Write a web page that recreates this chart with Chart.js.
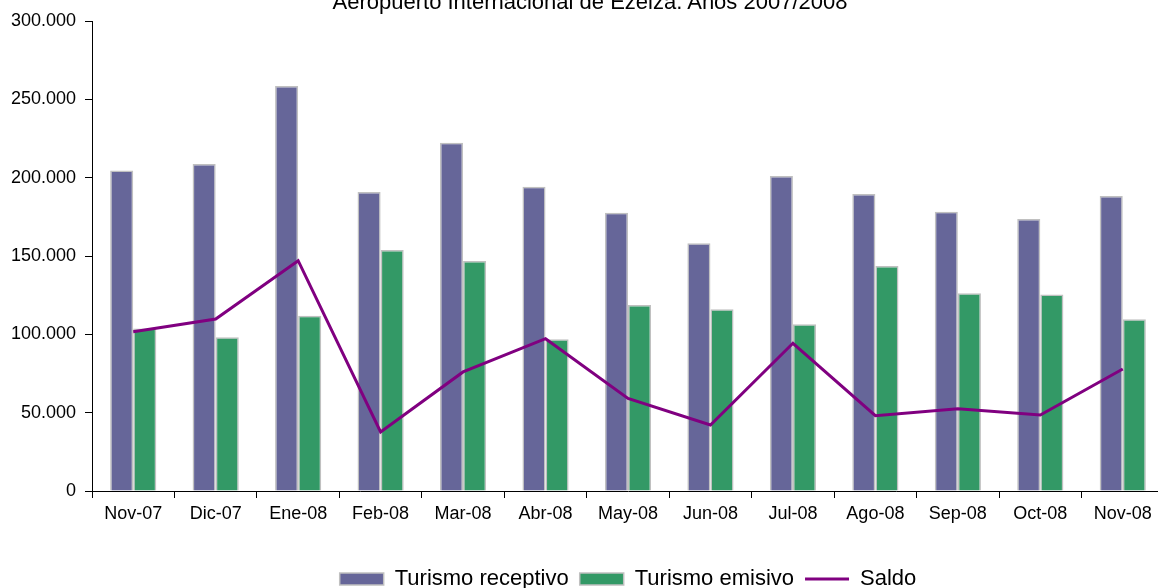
<!DOCTYPE html>
<html>
<head>
<meta charset="utf-8">
<script src="https://cdn.jsdelivr.net/npm/chart.js@4.4.0/dist/chart.umd.min.js"></script>
<style>
  html, body { margin: 0; padding: 0; background: #fff; overflow: hidden; }
  #wrap { position: relative; width: 1158px; height: 588px; overflow: hidden; }
  #title {
    position: absolute; left: 0; width: 1180px; top: -9px;
    text-align: center; font: 22px "Liberation Sans", Arial, sans-serif;
    line-height: 22px; color: #000; white-space: nowrap;
  }
  canvas { position: absolute; left: 0; top: 0; }
</style>
</head>
<body>
<div id="wrap">
  <canvas id="chart" width="1256" height="600"></canvas>
  <div id="title">Aeropuerto Internacional de Ezeiza. Años 2007/2008</div>
</div>
<script>
const months = ["Nov-07", "Dic-07", "Ene-08", "Feb-08", "Mar-08", "Abr-08", "May-08",
  "Jun-08", "Jul-08", "Ago-08", "Sep-08", "Oct-08", "Nov-08"];
const receptivo = [204500, 208700, 258500, 190900, 222300, 194200, 177600,
  158100, 201100, 189600, 178300, 173600, 188300];
const emisivo = [103800, 98100, 111900, 153800, 146800, 96800, 118700,
  116000, 106400, 143600, 126200, 125500, 109600];
const saldo = [101700, 109800, 147000, 37700, 76000, 97200, 59100,
  42100, 94300, 48100, 52500, 48500, 77900];

const FONT = "'Liberation Sans', Arial, sans-serif";

// 300000 -> "300.000"
function miles(v) {
  return String(v).replace(/\B(?=(\d{3})+(?!\d))/g, ".");
}

new Chart(document.getElementById("chart"), {
  type: "bar",
  data: {
    labels: months,
    datasets: [
      {
        label: "Turismo receptivo",
        data: receptivo,
        backgroundColor: "#666699",
        borderColor: "#c0c0c0",
        borderWidth: 1.5,
        categoryPercentage: 0.56,
        barPercentage: 1.0,
        pointStyle: "rect",
        order: 1
      },
      {
        label: "Turismo emisivo",
        data: emisivo,
        backgroundColor: "#339966",
        borderColor: "#c0c0c0",
        borderWidth: 1.5,
        categoryPercentage: 0.56,
        barPercentage: 1.0,
        pointStyle: "rect",
        order: 1
      },
      {
        type: "line",
        label: "Saldo",
        data: saldo,
        borderColor: "#800080",
        backgroundColor: "#800080",
        borderWidth: 3,
        pointRadius: 0,
        pointHoverRadius: 0,
        pointStyle: "line",
        pointBorderColor: "#800080",
        pointBorderWidth: 3,
        tension: 0,
        order: 0
      }
    ]
  },
  options: {
    responsive: false,
    animation: false,
    devicePixelRatio: 1,
    layout: { padding: { top: 21, left: 0, right: 0, bottom: 0 } },
    plugins: {
      title: { display: false },
      tooltip: { enabled: false },
      legend: {
        position: "bottom",
        labels: {
          usePointStyle: true,
          pointStyleWidth: 44,
          boxHeight: 12,
          padding: 11,
          color: "#000",
          font: { family: FONT, size: 22 },
          sort: (a, b) => a.datasetIndex - b.datasetIndex
        }
      }
    },
    scales: {
      x: {
        offset: true,
        grid: {
          offset: true,
          drawOnChartArea: false,
          color: "#000",
          tickLength: 7
        },
        border: { color: "#000", width: 1 },
        ticks: {
          color: "#000",
          padding: 5,
          maxRotation: 0,
          autoSkip: false,
          font: { family: FONT, size: 18 }
        },
        afterFit: (scale) => { scale.height = 66; }
      },
      y: {
        min: 0,
        max: 300000,
        grid: {
          drawOnChartArea: false,
          color: "#000",
          tickLength: 7
        },
        border: { color: "#000", width: 1 },
        ticks: {
          stepSize: 50000,
          color: "#000",
          padding: 9,
          font: { family: FONT, size: 18 },
          callback: (v) => miles(v)
        },
        afterFit: (scale) => { scale.width = 92; }
      },
      // empty right-hand axis that only reserves space past the plot
      yRight: {
        position: "right",
        display: true,
        grid: { display: false },
        border: { display: false },
        ticks: { display: false },
        afterFit: (scale) => { scale.width = 92; }
      }
    }
  }
});
</script>
</body>
</html>
